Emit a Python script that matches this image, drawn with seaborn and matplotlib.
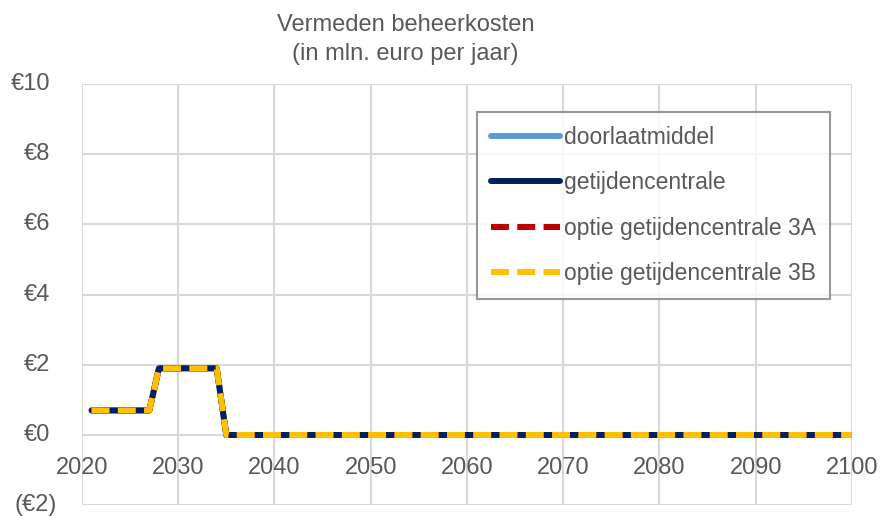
import pandas as pd
import matplotlib
matplotlib.use('Agg')
import matplotlib.pyplot as plt
import matplotlib.transforms as mtransforms
import seaborn as sns

# data (mln euro per jaar)
years = list(range(2021, 2101))
doorlaatmiddel = [0.7] * 7 + [1.9] * 7 + [0.0] * 66
getijdencentrale = [0.7] * 7 + [1.9] * 7 + [0.0] * 66
optie_3a = [0.7] * 7 + [1.9] * 7 + [0.0] * 66
optie_3b = [0.7] * 7 + [1.9] * 7 + [0.0] * 66

series_names = ['doorlaatmiddel', 'getijdencentrale',
                'optie getijdencentrale 3A', 'optie getijdencentrale 3B']
y_ticks = [-2, 0, 2, 4, 6, 8, 10]
y_labels = ['(€2)', '€0', '€2', '€4', '€6', '€8', '€10']
x_ticks = [2020, 2030, 2040, 2050, 2060, 2070, 2080, 2090, 2100]

df = pd.DataFrame({'jaar': years,
                   series_names[0]: doorlaatmiddel,
                   series_names[1]: getijdencentrale,
                   series_names[2]: optie_3a,
                   series_names[3]: optie_3b})
long_df = df.melt(id_vars='jaar', var_name='serie', value_name='kosten')

sns.set_style('white')
plt.rcParams['font.family'] = ['Liberation Sans', 'DejaVu Sans']
text_color = '#595959'
grid_color = '#D9D9D9'

fig = plt.figure(figsize=(8.81, 5.16), dpi=100)
ax = fig.add_axes([0.093, 0.021, 0.874, 0.816])

styles = {
    series_names[0]: dict(color='#5B9BD5', dashes=None),
    series_names[1]: dict(color='#002060', dashes=None),
    series_names[2]: dict(color='#C00000', dashes=(3, 1.4)),
    series_names[3]: dict(color='#FFC000', dashes=(3, 1.4)),
}
for name in series_names:
    st = styles[name]
    sub = long_df[long_df['serie'] == name]
    line_kw = dict(color=st['color'], linewidth=4.3, label=name)
    if st['dashes'] is not None:
        line_kw['dashes'] = st['dashes']
    sns.lineplot(data=sub, x='jaar', y='kosten', ax=ax, **line_kw)

ax.set_xlim(2020, 2100)
ax.set_ylim(-2, 10)
ax.set_xticks(x_ticks)
ax.set_yticks(y_ticks)
ax.set_yticklabels(y_labels)
ax.set_xlabel('')
ax.set_ylabel('')
ax.grid(True, color=grid_color, linewidth=1.5)
ax.set_axisbelow(True)
for s in ['left', 'right', 'top']:
    ax.spines[s].set_visible(False)
ax.spines['bottom'].set_position(('data', 0))
ax.spines['bottom'].set_visible(False)
ax.tick_params(axis='x', length=0, pad=16, labelsize=17, labelcolor=text_color)
ax.tick_params(axis='y', length=0, pad=23, labelsize=17, labelcolor=text_color)
for lbl in ax.get_yticklabels():
    lbl.set_verticalalignment('center')
# negative label sticks out a bit further to the right (excel number format)
neg = ax.get_yticklabels()[0]
neg.set_transform(neg.get_transform() +
                  mtransforms.ScaledTranslation(0.07, 0, fig.dpi_scale_trans))

fig.suptitle('Vermeden beheerkosten\n(in mln. euro per jaar)', x=0.46, y=0.972,
             fontsize=17, color=text_color, linespacing=1.4)

leg = ax.legend(loc='upper right', bbox_to_anchor=(0.971, 0.934), fontsize=16.5,
                frameon=True, fancybox=False, handlelength=3.05, handletextpad=0.15,
                labelspacing=0.98, borderpad=0.6, borderaxespad=0,
                labelcolor=text_color)
leg.get_frame().set_edgecolor('#7F7F7F')
leg.get_frame().set_linewidth(1.5)

fig.savefig('out.png', dpi=100)
